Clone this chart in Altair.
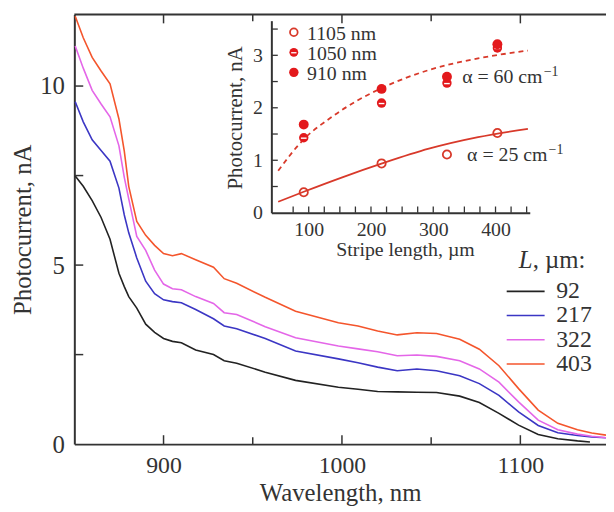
import altair as alt
import pandas as pd

# ---------------- main spectra (L = stripe length, um) ----------------
wl_grid = [850.5, 855, 860, 865, 870, 875, 878, 880.5, 885, 890, 895, 900, 905, 910,
           918, 928, 934, 941, 957, 974, 998, 1009, 1020, 1031, 1042, 1053, 1066,
           1077, 1088, 1099, 1110, 1121, 1132, 1140, 1148]
wl_92 = wl_grid[:33] + [1139]
pc_92 = [7.49, 7.2, 6.80, 6.33, 5.72, 4.77, 4.4, 4.12, 3.8, 3.35, 3.12, 2.95, 2.87, 2.83,
         2.63, 2.50, 2.33, 2.26, 2.01, 1.78, 1.59, 1.53, 1.47, 1.46, 1.45, 1.44, 1.34,
         1.16, 0.86, 0.53, 0.27, 0.15, 0.09, 0.06]
pc_217 = [9.56, 9.0, 8.50, 8.2, 7.90, 7.15, 6.4, 5.9, 5.2, 4.55, 4.2, 4.03, 3.98, 3.95,
          3.76, 3.50, 3.30, 3.22, 2.95, 2.60, 2.38, 2.27, 2.15, 2.05, 2.10, 2.05, 1.91,
          1.69, 1.36, 0.90, 0.52, 0.32, 0.24, 0.20, 0.18]
pc_322 = [11.12, 10.5, 9.88, 9.5, 9.14, 8.33, 7.45, 6.85, 5.8, 5.41, 4.86, 4.47, 4.34, 4.31,
          4.12, 3.93, 3.67, 3.62, 3.28, 2.97, 2.74, 2.66, 2.58, 2.47, 2.49, 2.45, 2.33,
          2.10, 1.73, 1.18, 0.67, 0.40, 0.28, 0.22, 0.18]
pc_403 = [11.95, 11.35, 10.80, 10.42, 10.06, 9.08, 8.18, 7.2, 6.22, 5.83, 5.55, 5.32, 5.26, 5.32,
          5.15, 4.94, 4.62, 4.49, 4.10, 3.71, 3.39, 3.30, 3.16, 3.05, 3.11, 3.09, 2.93,
          2.65, 2.19, 1.55, 0.95, 0.58, 0.40, 0.31, 0.25]
series_labels = ["92", "217", "322", "403"]
series_colors = ["#222222", "#3b36c4", "#e466e8", "#f4552c"]

x_ticks_major = [900, 1000, 1100]
x_ticks_minor = [950, 1050]
y_labels = [0, 5, 10]
y_ticks_inner = [2.5, 5, 7.5, 10]

# ---------------- inset ----------------
stripe_L = [92, 217, 322, 403]
pc_1105 = [0.39, 0.94, 1.11, 1.52]
pc_1050 = [1.43, 2.09, 2.47, 3.14]
pc_910 = [1.68, 2.36, 2.59, 3.21]
fit25_L = [51, 92, 155, 218, 293, 372, 452]
fit25_pc = [0.21, 0.40, 0.68, 0.94, 1.22, 1.44, 1.60]
fit60_L = [51, 92, 134, 177, 218, 293, 372, 452]
fit60_pc = [0.80, 1.40, 1.80, 2.13, 2.38, 2.72, 2.94, 3.09]
inset_x_labels = [100, 200, 300, 400]
inset_x_ticks = [75, 100, 125, 150, 175, 200, 225, 250, 275, 300, 325, 350, 375, 400, 425, 450]
inset_y_labels = [0, 1, 2, 3]
inset_y_ticks = [0.5, 1, 1.5, 2, 2.5, 3, 3.5]
inset_legend = ["1105 nm", "1050 nm", "910 nm"]

FONT = "Liberation Serif"
INK = "#333333"
RED = "#e3191c"
LINE_RED = "#d8392a"
W, H = 537, 434

# ---------------- main group ----------------
rows = []
for lab, wls, vals in [("92", wl_92, pc_92), ("217", wl_grid, pc_217),
                       ("322", wl_grid, pc_322), ("403", wl_grid, pc_403)]:
    for w, v in zip(wls, vals):
        rows.append({"wl": w, "pc": v, "L": lab})
df_main = pd.DataFrame(rows)

xs = alt.Scale(domain=[850, 1148], nice=False, zero=False)
ys = alt.Scale(domain=[0, 12], nice=False, zero=True)
cs = alt.Scale(domain=series_labels, range=series_colors)

lines = alt.Chart(df_main).mark_line(strokeWidth=1.6).encode(
    x=alt.X("wl:Q", scale=xs,
            axis=alt.Axis(values=x_ticks_major, title="Wavelength, nm", format="d",
                          labelFontSize=24, labelPadding=10, titleY=57,
                          titleBaseline="alphabetic")),
    y=alt.Y("pc:Q", scale=ys,
            axis=alt.Axis(values=y_labels, title="Photocurrent, nA", labelPadding=10,
                          format="d", titleX=-52, titleY=217, titleBaseline="middle")),
    color=alt.Color("L:N", scale=cs, legend=None),
)

def xtick(vals, y0, y1):
    return alt.Chart(pd.DataFrame({"wl": vals})).mark_rule(color=INK, strokeWidth=1.5).encode(
        x=alt.X("wl:Q", scale=xs), y=alt.value(y0), y2=alt.value(y1))

ticks_main = [
    xtick(x_ticks_major, H, H - 9), xtick(x_ticks_minor, H, H - 7),
    xtick(x_ticks_major, 0, 9), xtick(x_ticks_minor, 0, 7),
    alt.Chart(pd.DataFrame({"pc": y_ticks_inner})).mark_rule(color=INK, strokeWidth=1.5).encode(
        y=alt.Y("pc:Q", scale=ys), x=alt.value(0), x2=alt.value(9)),
    alt.Chart(pd.DataFrame({"a": [0]})).mark_rule(color=INK, strokeWidth=2).encode(
        x=alt.value(0), x2=alt.value(W), y=alt.value(0)),
]
main = alt.layer(lines, *ticks_main)

# ---------------- inset group ----------------
ixs = alt.Scale(domain=[40, 455], range=[199, 460], nice=False, zero=False)
iys = alt.Scale(domain=[0, 3.66], range=[200.3, 6.3], nice=False, zero=False)

df_fit25 = pd.DataFrame({"Ls": fit25_L, "ipc": fit25_pc})
df_fit60 = pd.DataFrame({"Ls": fit60_L, "ipc": fit60_pc})
fit25 = alt.Chart(df_fit25).mark_line(color=LINE_RED, strokeWidth=1.8, interpolate="monotone").encode(
    x=alt.X("Ls:Q", scale=ixs,
            axis=alt.Axis(orient="bottom", offset=-(H - 200.3), values=inset_x_labels,
                          format="d", title="Stripe length, µm", labelFontSize=20,
                          titleFontSize=20, labelPadding=7, titleX=334, titleY=43,
                          titleBaseline="alphabetic")),
    y=alt.Y("ipc:Q", scale=iys,
            axis=alt.Axis(orient="left", offset=-199, values=inset_y_labels, format="d",
                          title="Photocurrent, nA", labelFontSize=20, titleFontSize=21,
                          labelPadding=9, titleX=-36, titleY=104, titleBaseline="middle")),
)
fit60 = alt.Chart(df_fit60).mark_line(color=LINE_RED, strokeWidth=1.8, strokeDash=[5, 4],
                                      interpolate="monotone").encode(
    x=alt.X("Ls:Q", scale=ixs), y=alt.Y("ipc:Q", scale=iys))

def pts(vals):
    return pd.DataFrame({"Ls": stripe_L, "ipc": vals})

p1105 = alt.Chart(pts(pc_1105)).mark_point(shape="circle", filled=False, color=LINE_RED,
                                            strokeWidth=1.8, size=70, opacity=1).encode(
    x=alt.X("Ls:Q", scale=ixs), y=alt.Y("ipc:Q", scale=iys))
p1050 = alt.Chart(pts(pc_1050)).mark_point(shape="circle", filled=True, color=RED,
                                            size=90, opacity=1).encode(
    x=alt.X("Ls:Q", scale=ixs), y=alt.Y("ipc:Q", scale=iys))
p1050s = alt.Chart(pts(pc_1050)).mark_point(shape="M -0.6 0.1 L 0.6 0.1", filled=False,
                                             color="white", strokeWidth=1.4, size=90, opacity=1).encode(
    x=alt.X("Ls:Q", scale=ixs), y=alt.Y("ipc:Q", scale=iys))
p910 = alt.Chart(pts(pc_910)).mark_point(shape="circle", filled=True, color=RED,
                                          size=100, opacity=1).encode(
    x=alt.X("Ls:Q", scale=ixs), y=alt.Y("ipc:Q", scale=iys))

def itick_x(y0, y1):
    return alt.Chart(pd.DataFrame({"Ls": inset_x_ticks})).mark_rule(color=INK, strokeWidth=1.3).encode(
        x=alt.X("Ls:Q", scale=ixs), y=alt.value(y0), y2=alt.value(y1))

itx = itick_x(200.3, 194)
ity = alt.Chart(pd.DataFrame({"ipc": inset_y_ticks})).mark_rule(color=INK, strokeWidth=1.3).encode(
    y=alt.Y("ipc:Q", scale=iys), x=alt.value(199), x2=alt.value(205.5))

one = pd.DataFrame({"a": [0]})
def label(txt, x, y, size=20, style="normal"):
    return alt.Chart(one).mark_text(text=txt, align="left", baseline="alphabetic", font=FONT,
                                    fontSize=size, color=INK, fontStyle=style).encode(
        x=alt.value(x), y=alt.value(y))

ann = [label("α = 60 cm", 391.7, 69), label("−1", 474, 62, 14),
       label("α = 25 cm", 396.7, 148), label("−1", 479, 141, 14)]

inset = alt.layer(fit25, fit60, itx, ity, p1105, p1050, p1050s, p910, *ann)

# ---------------- main legend group ----------------
leg_df = pd.DataFrame({"L": series_labels})
ly = alt.Scale(type="point", domain=series_labels, range=[279.7, 353], padding=0)
leg_lines = alt.Chart(leg_df).mark_rule(strokeWidth=1.6).encode(
    y=alt.Y("L:N", scale=ly, axis=None), x=alt.value(436.7), x2=alt.value(475),
    color=alt.Color("L:N", scale=cs, legend=None))
leg_text = alt.Chart(leg_df).mark_text(align="left", baseline="middle", font=FONT,
                                       fontSize=24, color=INK).encode(
    y=alt.Y("L:N", scale=ly, axis=None), x=alt.value(486.7), text="L:N")
leg_title = [label("L", 449, 256, 25, "italic"), label(", µm:", 463, 256, 25)]
legend_main = alt.layer(leg_lines, leg_text, *leg_title)

# ---------------- inset legend group ----------------
il_df = pd.DataFrame({"k": inset_legend})
ily = alt.Scale(type="point", domain=inset_legend, range=[18, 58.5], padding=0)
def il_mark(name, **kw):
    return alt.Chart(il_df).transform_filter(alt.datum.k == name).mark_point(
        shape="circle", opacity=1, **kw).encode(
        y=alt.Y("k:N", scale=ily, axis=None), x=alt.value(221.7))
il_marks = [
    il_mark("1105 nm", filled=False, color=LINE_RED, strokeWidth=1.8, size=60),
    il_mark("1050 nm", filled=True, color=RED, size=80),
    alt.Chart(il_df).transform_filter(alt.datum.k == "1050 nm").mark_point(
        shape="M -0.6 0.1 L 0.6 0.1", filled=False, color="white", strokeWidth=1.3, size=80,
        opacity=1).encode(y=alt.Y("k:N", scale=ily, axis=None), x=alt.value(221.7)),
    il_mark("910 nm", filled=True, color=RED, size=90),
]
il_text = alt.Chart(il_df).mark_text(align="left", baseline="middle", font=FONT, fontSize=20,
                                     color=INK, dy=1.5).encode(
    y=alt.Y("k:N", scale=ily, axis=None), x=alt.value(235), text="k:N")
legend_inset = alt.layer(*il_marks, il_text)

chart = alt.layer(main, inset, legend_main, legend_inset).resolve_scale(
    x="independent", y="independent"
).properties(
    width=W, height=H, autosize=alt.AutoSizeParams(type="none"),
    padding={"left": 67, "top": 4, "right": 0, "bottom": 60},
).configure_view(stroke=None).configure_axis(
    grid=False, ticks=False, tickSize=0, domainColor=INK, domainWidth=2,
    labelColor=INK, titleColor=INK, labelFont=FONT, titleFont=FONT,
    labelFontSize=25, titleFontSize=25, titleFontWeight="normal",
    labelOverlap=False, labelFlush=False,
)

chart.save("out.html", embed_options={"renderer": "svg", "actions": False})
